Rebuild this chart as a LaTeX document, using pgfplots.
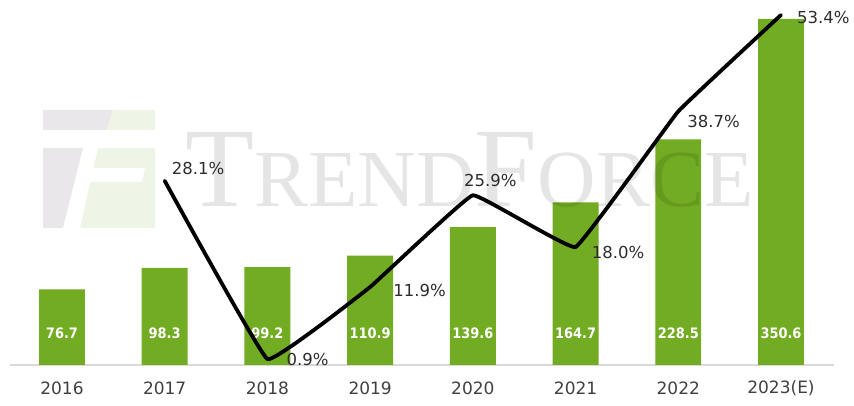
\documentclass[border=0pt]{standalone}
\usepackage{fontspec}
\setmainfont{DejaVu Sans}
\newfontfamily\condfont{DejaVu Sans Condensed}
\newfontfamily\wmfont{Liberation Serif}
\usepackage{pgfplots}
\usepackage{pgfplotstable}
\pgfplotsset{compat=1.18}
\definecolor{barg}{RGB}{114,172,35}
\definecolor{labelgray}{RGB}{64,64,64}
\definecolor{pctgray}{RGB}{45,45,45}
\definecolor{linegray}{RGB}{217,217,217}
\definecolor{logogray}{RGB}{233,231,233}
\definecolor{logogreen}{RGB}{238,245,230}

\pgfplotstableread{
x v
0 76.7
1 98.3
2 99.2
3 110.9
4 139.6
5 164.7
6 228.5
7 350.6
}\bardata

\pgfplotstableread{
x p dx dy
1 28.1 7 12
2 0.9 19 0
3 11.9 23 -3
4 25.9 -9 15
5 18.0 16 -5
6 38.7 9 -10
7 53.4 16 -3
}\growthdata

\begin{document}
\begin{tikzpicture}
\useasboundingbox (0,0) rectangle (854pt,406pt);
% faint logo
\fill[logogray] (43pt,296pt) -- (113pt,296pt) -- (107pt,276pt) -- (43pt,276pt) -- cycle;
\fill[logogray] (43pt,258pt) -- (83pt,258pt) -- (63pt,178pt) -- (43pt,178pt) -- cycle;
\fill[logogreen] (113pt,296pt) -- (155pt,296pt) -- (155pt,276pt) -- (107pt,276pt) -- cycle;
\fill[logogreen] (98pt,258pt) -- (155pt,258pt) -- (155pt,178pt) -- (80pt,178pt) -- (90.3pt,224pt) -- (142pt,224pt) -- (145pt,238pt) -- (93.5pt,238pt) -- cycle;

\begin{axis}[
  at={(10pt,41pt)}, anchor=south west, scale only axis,
  width=824pt, height=355pt,
  xmin=-0.506, xmax=7.516, ymin=0, ymax=359.7,
  axis x line*=bottom, axis y line=none,
  x axis line style={draw=linegray, line width=1.5pt, -},
  xtick={0,...,7},
  xticklabels={2016,2017,2018,2019,2020,2021,2022,2023(E)},
  xtick style={draw=none}, ytick=\empty,
  xticklabel style={font=\fontsize{17}{20}\selectfont, text=labelgray, anchor=center, yshift=-23pt},
  clip=false,
]
\addplot[ybar, bar width=0.447, fill=barg, draw=none] table[x=x,y=v] {\bardata};
\addplot[draw=none, mark=none, nodes near coords={\pgfplotspointmeta},
  point meta=explicit symbolic,
  every node near coord/.append style={anchor=center, inner sep=0pt, text=white, font=\condfont\bfseries\fontsize{14.4}{16}\selectfont}]
  table[x=x, y expr=32.4, meta=v] {\bardata};
\end{axis}

% watermark
\node[anchor=base west, inner sep=0pt, text=black, text opacity=0.1, font=\wmfont] at (185pt,199pt)
  {{\fontsize{113}{113}\selectfont T}{\fontsize{81}{81}\selectfont REND}{\fontsize{113}{113}\selectfont F}{\fontsize{81}{81}\selectfont ORCE}};

\begin{axis}[
  at={(10pt,41pt)}, anchor=south west, scale only axis,
  width=824pt, height=355pt,
  xmin=-0.506, xmax=7.516, ymin=0, ymax=54.16,
  axis lines=none, clip=false,
]
\addplot[black, line width=3.8pt, smooth, tension=0.12, line join=round, line cap=round] table[x=x,y=p] {\growthdata};
\addplot[draw=none, mark=none, nodes near coords={\pgfplotspointmeta\%},
  point meta=explicit symbolic,
  visualization depends on={\thisrow{dx} \as \dx},
  visualization depends on={\thisrow{dy} \as \dy},
  every node near coord/.append style={anchor=west, inner sep=0pt, xshift=\dx pt, yshift=\dy pt, text=pctgray, font=\fontsize{16.5}{19}\selectfont}]
  table[x=x, y=p, meta=p] {\growthdata};
\end{axis}
\end{tikzpicture}
\end{document}
